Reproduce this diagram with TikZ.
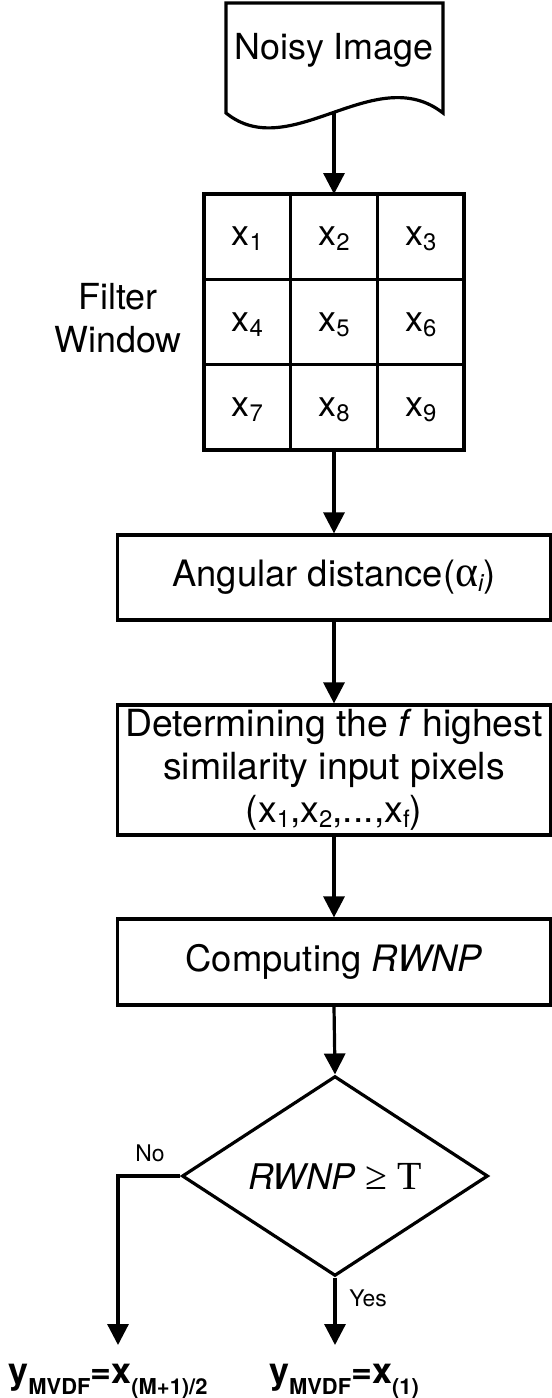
\documentclass[tikz,border=0pt]{standalone}
\usepackage{fontspec}
\setmainfont{TeX Gyre Heros}
\newfontfamily\serifT{Liberation Serif}
\usetikzlibrary{arrows.meta,shapes.geometric}
\newcommand\mysub[1]{\raisebox{-5bp}{\fontsize{24}{24}\selectfont #1}}
\newcommand\outsub[1]{\raisebox{-11bp}{\fontsize{22}{22}\selectfont\bfseries #1}}
\begin{document}
\begin{tikzpicture}[x=1bp,y=-1bp,
  line width=3.2bp,
  arr/.style={-{Triangle[length=21bp,width=21bp]}},
  cell/.style={draw, minimum width=86.7bp, minimum height=85.3bp, inner sep=0pt, outer sep=0pt,
    text height=18bp, text depth=0bp, font=\fontsize{36}{43}\selectfont},
  box/.style={draw, minimum width=433bp, inner sep=0pt, align=center, font=\fontsize{36.5}{43}\selectfont},
  txt/.style={font=\fontsize{36}{43}\selectfont, inner sep=0pt, align=center},
  lbl/.style={font=\fontsize{23}{26}\selectfont, inner sep=0pt},
  outtxt/.style={font=\fontsize{36}{40}\selectfont\bfseries, inner sep=0pt, anchor=base},
]
\useasboundingbox (0,0) rectangle (552,1398);
% document shape
\draw (226,113) -- (226,3) -- (443,3) -- (443,113) .. controls (375,60) and (290,165) .. cycle;
\node[txt, anchor=base] (doc) at (334,60) {Noisy Image};
\coordinate (docout) at (334,112);
% grid
\foreach \i in {1,...,9} {
  \pgfmathtruncatemacro\cc{mod(\i-1,3)}
  \pgfmathtruncatemacro\rr{(\i-1)/3}
  \node[cell] (c\i) at ({247.3+86.7*\cc},{236.7+85.3*\rr}) {x\mysub{\i}};
}
\node[txt] (fw) at (118,318) {Filter\\Window};
% boxes
\node[box, minimum height=85bp] (ang) at (334,577.5) {Angular distance({\serifT\fontsize{44}{44}\selectfont α}\mysub{\itshape i})};
\node[box, minimum height=130bp, font=\fontsize{37.5}{43}\selectfont] (det) at (334,770) {Determining the \textit{f} highest\\similarity input pixels\\(x\mysub{1},x\mysub{2},...,x\mysub{f})};
\node[box, minimum height=86bp] (comp) at (334,962) {Computing \textit{RWNP}};
\node[diamond, draw, minimum width=306bp, minimum height=180bp, inner sep=0pt,
  font=\fontsize{35.5}{40}\selectfont] (dia) at (335,1176) {\textit{RWNP} {\serifT\fontsize{40}{40}\selectfont ≥ T}};
\coordinate (nocorner) at (118,1176);
\coordinate (noend) at (118,1345);
\coordinate (yesend) at (335,1345);
\node[lbl] (no) at (150,1153) {No};
\node[lbl] (yes) at (368,1298) {Yes};
\node[outtxt] (outno) at (108,1383) {y\outsub{MVDF}=x\outsub{(M+1)/2}};
\node[outtxt] (outyes) at (344,1383) {y\outsub{MVDF}=x\outsub{(1)}};
% connectors
\draw[arr] (docout) -- (c2.north);
\draw[arr] (c8.south) -- (ang.north);
\draw[arr] (ang.south) -- (det.north);
\draw[arr] (det.south) -- (comp.north);
\draw[arr] (comp.south) -- (dia.north);
\draw[arr] (dia.west) -- (nocorner) -- (noend);
\draw[arr] (dia.south) -- (yesend);
\end{tikzpicture}
\end{document}
